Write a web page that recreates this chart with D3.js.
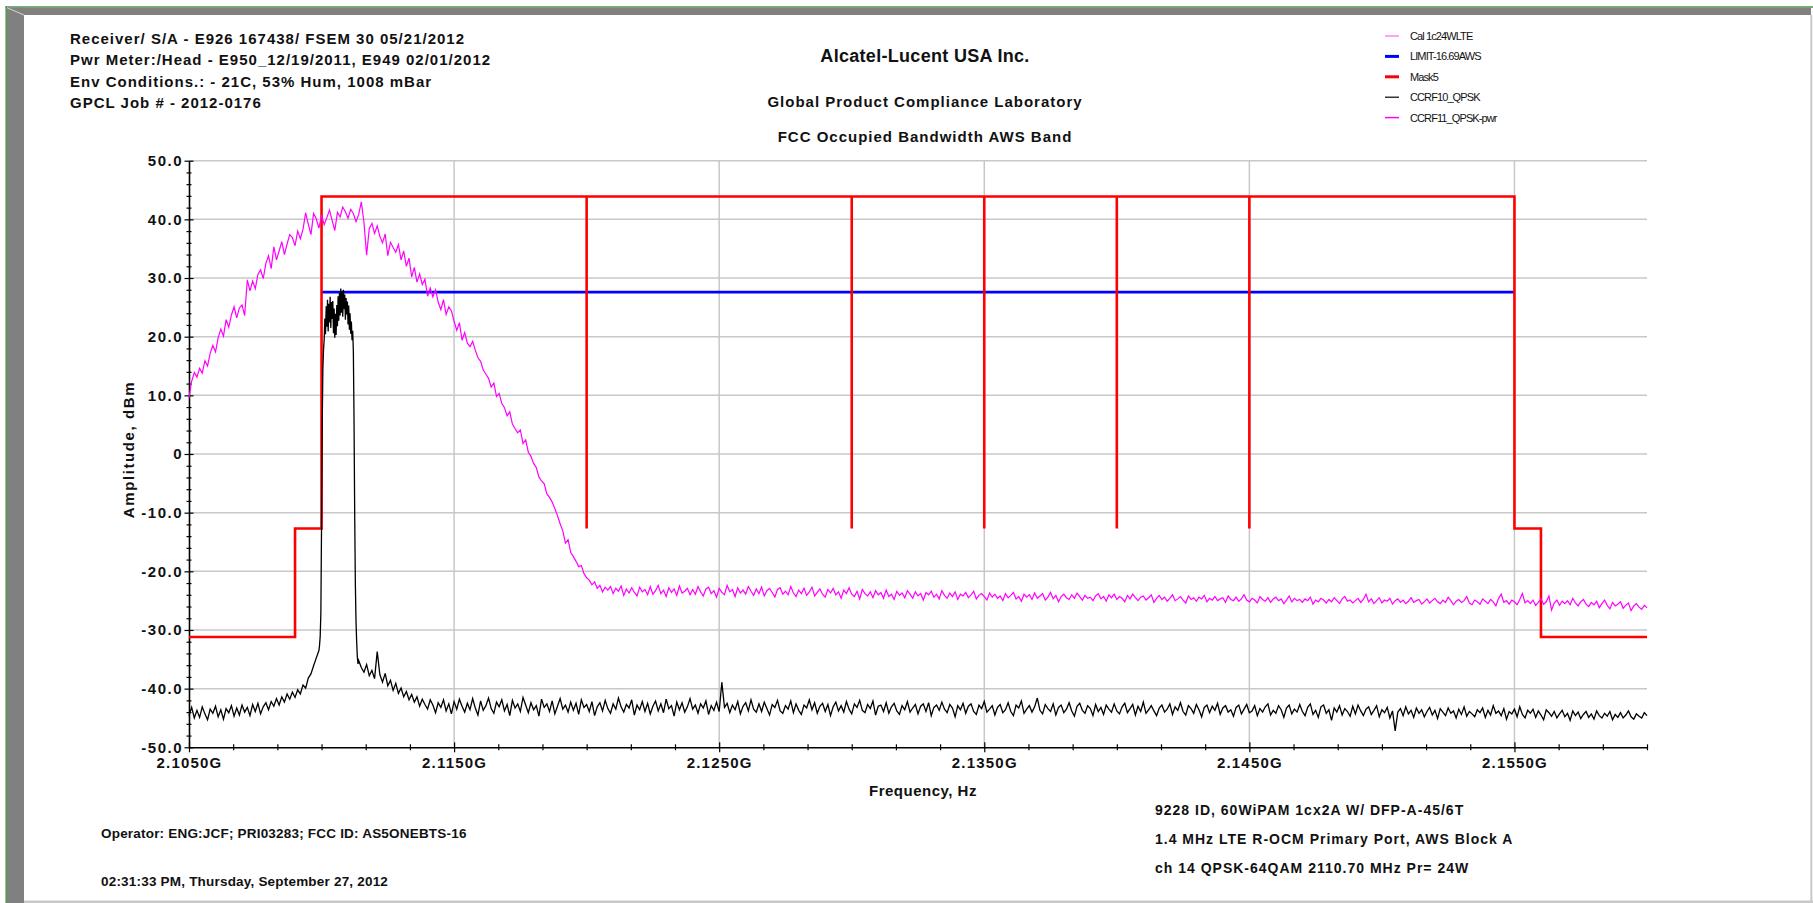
<!DOCTYPE html>
<html>
<head>
<meta charset="utf-8">
<script src="https://cdn.jsdelivr.net/npm/d3@7"></script>
<style>
  body { margin: 0; background: #fff; }
  svg { display: block; font-family: "Liberation Sans", Arial, sans-serif; font-weight: bold; }
</style>
</head>
<body>
<div class="plot"></div>
<script>
// ---- data ----
const headerLines = [
  "Receiver/ S/A - E926 167438/ FSEM 30 05/21/2012",
  "Pwr Meter:/Head - E950_12/19/2011, E949 02/01/2012",
  "Env Conditions.: - 21C, 53% Hum,  1008 mBar",
  "GPCL Job #  - 2012-0176"
];
const titleLines = ["Alcatel-Lucent USA Inc.", "Global Product Compliance Laboratory", "FCC Occupied Bandwidth AWS Band"];
const footerLeft = ["Operator:  ENG:JCF; PRI03283;  FCC ID: AS5ONEBTS-16", "02:31:33 PM, Thursday, September 27, 2012"];
const footerRight = [
  "9228 ID, 60WiPAM 1cx2A W/ DFP-A-45/6T",
  "1.4 MHz LTE R-OCM Primary Port, AWS Block A",
  "ch 14 QPSK-64QAM 2110.70 MHz Pr= 24W"
];
const legendNames = ["Cal 1c24WLTE", "LIMIT-16.69AWS", "Mask5", "CCRF10_QPSK", "CCRF11_QPSK-pwr"];
const legendColors = ["#ff80ff", "#0000ff", "#ff0000", "#000000", "#ff00ff"];
const legendWidths = [1.5, 3, 3, 1.2, 1.5];

const freqDomain = [2.105, 2.160];       // GHz
const ampDomain = [-50, 50];             // dBm
const xTickStep = 0.01 / 6;              // minor tick spacing
const yTickStep = 2;

// mask (Mask5)
const maskTop = 43.9, maskStep = -12.7, maskFloor = -31.2;
const maskFreq = [2.105, 2.109, 2.109, 2.110, 2.110, 2.155, 2.155, 2.156, 2.156, 2.160];
const maskLevel = [maskFloor, maskFloor, maskStep, maskStep, maskTop, maskTop, maskStep, maskStep, maskFloor, maskFloor];
const maskMarkers = [2.120, 2.130, 2.135, 2.140, 2.145];

// limit line
const limitFreq = [2.110, 2.155];
const limitLevel = 27.6;

// CCRF11_QPSK-pwr sweep (magenta): 2.105 GHz in 0.1 MHz steps, one row per MHz
const sweepStart = 2.105, sweepStep = 0.0001;
const pwrVals = [
  9.6, 12.4, 13.9, 13.1, 14.6, 13.8, 15.9, 15.0, 17.2, 18.5,
  17.4, 19.8, 21.3, 20.1, 22.9, 21.6, 23.7, 25.1, 23.2, 24.9,
  25.4, 23.6, 29.7, 27.8, 29.5, 28.2, 30.6, 31.4, 29.9, 32.5,
  33.8, 31.6, 35.3, 33.1, 34.6, 36.2, 34.0, 35.8, 37.4, 36.9,
  35.5, 38.0, 36.7, 38.3, 41.1, 39.2, 37.4, 41.0, 40.1, 38.5,
  40.7, 39.1, 40.3, 41.6, 39.8, 38.1, 41.2, 40.4, 42.1, 41.3,
  40.2, 41.7, 41.0, 39.6, 40.8, 43.0, 39.5, 33.9, 38.4, 39.3,
  37.6, 38.9, 37.1, 36.0, 37.5, 33.8, 36.1, 35.2, 34.4, 35.7,
  33.1, 34.6, 32.0, 33.4, 30.2, 31.8, 29.3, 30.7, 28.9, 29.8,
  26.9, 28.3, 26.8, 28.0, 25.9, 24.6, 26.3, 23.8, 25.1, 24.4,
  22.6, 21.1, 22.4, 19.4, 20.7, 18.9, 18.3, 19.2, 17.7, 16.4,
  15.8, 14.3, 13.6, 12.9, 11.4, 12.1, 9.8, 10.3, 8.6, 7.9,
  6.5, 7.2, 5.1, 4.3, 3.6, 4.1, 1.8, 2.4, 0.3, -0.4,
  -1.6, -2.3, -3.9, -4.6, -5.1, -6.8, -7.4, -8.2, -9.3, -10.5,
  -11.9, -13.1, -15.2, -14.6, -16.8, -17.5, -18.3, -19.2, -19.0, -20.4,
  -21.1, -21.5, -22.3, -21.8, -22.9, -22.4, -23.5, -22.7, -23.2, -22.6,
  -23.8, -22.9, -23.4, -22.5, -24.1, -23.0, -23.7, -22.8, -23.6, -24.2,
  -22.7, -23.5, -23.1, -24.0, -22.6, -23.9, -23.3, -22.4, -23.8, -23.2,
  -24.3, -22.8, -23.6, -23.0, -24.1, -22.5, -23.7, -23.4, -22.9, -24.0,
  -23.1, -23.9, -22.6, -23.5, -24.2, -23.0, -22.7, -23.8, -23.3, -24.4,
  -22.9, -23.6, -24.0, -22.4, -23.5, -23.1, -24.3, -22.8, -23.7, -23.2,
  -23.9, -22.6, -23.4, -24.1, -23.0, -23.8, -22.7, -24.2, -23.3, -22.9,
  -23.6, -24.4, -23.1, -22.8, -23.9, -23.4, -24.0, -22.6, -23.7, -24.3,
  -23.2, -23.8, -22.9, -24.1, -23.5, -22.7, -24.2, -23.6, -23.0, -23.9,
  -24.4, -23.1, -23.7, -22.9, -24.0, -23.5, -24.6, -23.2, -23.8, -22.8,
  -23.9, -24.3, -23.4, -24.7, -23.1, -23.8, -24.2, -23.5, -24.5, -23.3,
  -24.0, -23.6, -24.6, -23.2, -24.3, -23.9, -24.8, -23.4, -24.1, -23.7,
  -24.5, -23.3, -23.9, -24.6, -23.5, -24.2, -23.8, -24.9, -23.6, -24.0,
  -23.4, -24.4, -23.9, -24.7, -23.3, -24.1, -24.6, -23.7, -24.3, -23.5,
  -24.8, -23.9, -24.2, -23.6, -24.5, -24.0, -23.4, -24.7, -24.1, -23.8,
  -24.3, -24.9, -23.7, -24.4, -23.9, -24.6, -24.2, -25.0, -23.8, -24.5,
  -24.1, -23.6, -24.7, -24.3, -25.1, -23.9, -24.4, -24.0, -24.8, -23.7,
  -24.6, -24.2, -23.8, -24.9, -24.4, -23.6, -24.7, -24.1, -25.2, -24.3,
  -23.9, -24.5, -24.8, -24.0, -24.6, -23.7, -24.3, -24.9, -24.1, -24.6,
  -24.4, -25.0, -24.2, -23.8, -24.7, -24.3, -25.1, -24.0, -24.5, -23.9,
  -24.8, -24.3, -24.6, -25.2, -24.1, -24.7, -23.9, -24.5, -25.0, -24.4,
  -24.2, -24.9, -24.5, -24.0, -25.3, -24.6, -24.1, -24.8, -24.4, -25.1,
  -24.6, -24.0, -25.0, -24.7, -24.3, -24.9, -25.4, -24.2, -24.8, -24.5,
  -25.1, -24.4, -24.7, -24.1, -25.2, -24.6, -24.9, -24.3, -25.0, -24.7,
  -24.5, -25.3, -24.2, -24.8, -25.0, -24.4, -25.1, -24.7, -24.0, -24.9,
  -25.2, -24.6, -24.9, -25.4, -24.3, -24.8, -25.1, -24.5, -25.3, -24.7,
  -24.4, -25.0, -24.7, -25.5, -24.9, -24.2, -25.2, -24.6, -25.0, -24.8,
  -25.3, -24.7, -25.0, -24.4, -25.6, -24.9, -25.2, -24.6, -24.9, -25.4,
  -24.8, -25.2, -24.5, -25.0, -25.5, -24.7, -24.3, -25.1, -24.9, -25.4,
  -25.0, -24.6, -25.3, -24.8, -23.9, -25.2, -24.7, -25.5, -25.0, -24.5,
  -25.4, -24.9, -25.1, -24.6, -25.6, -25.0, -24.7, -25.3, -24.9, -25.5,
  -25.1, -24.5, -25.3, -25.0, -24.8, -25.6, -25.2, -24.7, -25.4, -25.0,
  -24.6, -25.2, -25.5, -24.9, -25.3, -24.4, -25.0, -25.7, -25.1, -24.8,
  -25.3, -25.0, -24.3, -25.4, -25.7, -24.9, -25.2, -25.6, -24.7, -25.1,
  -25.5, -24.8, -25.2, -25.9, -24.6, -23.9, -25.3, -25.0, -25.6, -24.9,
  -25.2, -25.7, -24.8, -23.8, -25.4, -25.0, -25.5, -24.9, -25.8, -25.3,
  -24.7, -25.6, -25.2, -24.2, -26.6, -25.4, -24.9, -25.8, -25.1, -25.5,
  -25.0, -25.7, -24.6, -25.4, -25.9, -25.2, -24.8, -25.6, -26.0, -25.3,
  -25.7, -25.1, -26.2, -25.5, -24.9, -25.8, -26.4, -25.3, -25.9, -25.6,
  -25.2, -26.3, -25.8, -25.4, -26.7, -25.9, -25.5, -26.1, -26.5, -25.8,
  -26.2
];

// CCRF10_QPSK (black): below carrier, carrier (fine steps), above carrier
const noiseLeft = [
  -44.6, -43.2, -45.0, -43.7, -44.9, -43.1, -44.3, -45.3, -43.5, -44.2,
  -43.0, -44.8, -43.6, -45.2, -43.4, -44.1, -42.9, -44.7, -43.3, -44.5,
  -42.8, -44.0, -43.2, -44.6, -42.7, -43.9, -42.5, -44.3, -43.1, -42.4,
  -43.6, -42.2, -43.0, -41.7, -42.8, -41.4, -42.3, -40.9, -41.8, -40.6,
  -41.5, -40.2, -40.9, -39.4, -39.9, -38.2, -37.5, -36.1, -34.8
];
const carrierStart = 2.1099, carrierStep = 0.000025;
const carrierVals = [
  -33.5, -32.6, -31.0, -27.0,
  -12.0, 5.0, 14.5, 17.8, 19.6, 23.1, 20.4, 25.2, 21.7, 26.3,
  20.9, 25.6, 22.4, 26.8, 21.5, 25.9, 23.0, 26.1, 20.6, 24.8,
  19.8, 23.9, 20.3, 25.4, 21.8, 26.9, 22.7, 27.5, 23.6, 28.2,
  24.1, 27.8, 23.4, 28.0, 24.7, 27.2, 22.9, 26.6, 23.8, 26.0,
  22.1, 25.3, 21.2, 24.0, 20.5, 22.6, 19.4, 21.0, 17.5, 6.0,
  -10.0, -22.0, -28.5, -32.0, -34.6, -35.8, -35.2
];
const noiseRightStart = 2.1115;
const noiseRight = [
  -36.4, -37.2, -35.9, -37.8, -36.9, -38.3, -33.7, -37.6, -38.9, -37.4,
  -39.5, -38.6, -40.3, -39.1, -40.8, -39.9, -41.4, -40.5, -41.9, -41.0,
  -42.3, -41.4, -43.0, -41.8, -42.7, -43.5, -41.9, -42.8, -44.1, -42.4,
  -43.2, -41.9, -43.8, -42.6, -44.3, -42.2, -43.5, -41.8, -43.0, -44.0,
  -42.5, -43.6, -41.7, -43.3, -44.5, -42.1, -43.7, -42.9, -41.6, -43.4,
  -44.2, -42.3, -43.1, -41.9, -43.8, -42.7, -44.6, -42.0, -43.3, -42.6,
  -43.9, -41.5, -42.8, -44.1, -42.4, -43.6, -42.9, -44.7, -41.8, -43.2,
  -42.6, -43.9, -42.1, -44.3, -43.0, -41.7, -43.5, -42.8, -44.0, -42.3,
  -43.7, -42.5, -44.4, -41.9, -43.2, -42.7, -43.9, -42.2, -44.6, -43.1,
  -42.4, -43.8, -42.0, -43.4, -44.2, -42.6, -43.5, -41.6, -43.1, -44.0,
  -42.7, -43.3, -41.9, -44.5, -42.8, -43.6, -42.2, -43.9, -42.5, -44.3,
  -43.0, -42.1, -43.8, -42.6, -44.1, -41.8, -43.4, -42.9, -44.7, -42.3,
  -43.6, -42.4, -44.0, -43.1, -41.7, -43.5, -42.8, -44.2, -42.6, -43.3,
  -42.1, -44.4, -42.9, -43.7, -42.3, -43.9, -38.9, -43.2, -42.5, -44.1,
  -42.8, -43.6, -42.2, -44.3, -43.0, -42.4, -43.8, -41.9, -43.5, -44.0,
  -42.6, -43.9, -42.3, -43.4, -44.5, -42.7, -43.2, -42.0, -43.8, -44.2,
  -42.9, -43.5, -42.1, -44.1, -42.6, -43.7, -44.4, -42.8, -43.3, -41.9,
  -43.6, -42.4, -44.2, -43.0, -42.5, -43.9, -42.7, -44.6, -43.1, -42.3,
  -43.8, -42.9, -44.0, -42.2, -43.5, -44.3, -42.6, -43.2, -42.0, -43.7,
  -44.1, -42.7, -43.4, -42.1, -44.5, -43.0, -42.8, -43.9, -42.4, -44.2,
  -43.1, -42.5, -43.8, -44.4, -42.9, -43.6, -42.2, -44.0, -43.3, -42.7,
  -44.3, -43.0, -42.6, -43.9, -42.4, -44.6, -43.2, -42.8, -43.7, -42.3,
  -43.5, -44.1, -42.7, -43.3, -44.8, -42.9, -43.6, -42.5, -44.2, -43.0,
  -42.6, -43.9, -44.4, -42.8, -43.4, -42.2, -44.0, -43.5, -42.9, -44.5,
  -43.2, -42.7, -44.1, -43.6, -42.4, -43.9, -44.6, -42.8, -43.3, -42.1,
  -44.2, -43.5, -42.9, -44.0, -43.1, -41.6, -43.7, -44.3, -42.7, -43.4,
  -43.9, -42.6, -44.5, -43.2, -42.8, -44.1, -43.5, -42.4, -43.8, -44.7,
  -43.0, -42.5, -43.7, -44.2, -42.9, -43.4, -44.6, -42.7, -43.9, -43.2,
  -44.4, -42.8, -43.5, -44.0, -42.6, -43.8, -44.3, -43.1, -42.5, -44.1,
  -43.4, -42.7, -44.5, -43.0, -43.9, -42.3, -44.2, -43.6, -42.9, -43.8,
  -44.6, -43.3, -42.8, -44.0, -43.5, -42.6, -44.4, -43.1, -43.7, -42.4,
  -43.9, -44.5, -42.9, -43.4, -44.2, -42.7, -43.6, -44.8, -43.2, -42.8,
  -44.1, -43.0, -43.7, -42.5, -44.4, -43.3, -42.9, -44.0, -43.6, -44.7,
  -43.2, -42.8, -44.3, -43.5, -42.7, -44.1, -43.8, -42.9, -44.6, -43.4,
  -44.0, -43.1, -42.6, -44.5, -43.7, -44.2, -42.9, -43.6, -44.9, -43.3,
  -42.8, -44.3, -43.5, -44.0, -42.7, -43.9, -44.6, -43.2, -42.6, -44.4,
  -43.7, -44.9, -43.1, -42.8, -44.2, -43.6, -45.4, -43.3, -44.0, -42.9,
  -44.5, -43.4, -43.9, -44.7, -43.0, -44.3, -42.8, -43.8, -44.6, -43.5,
  -43.1, -44.4, -43.7, -42.9, -44.8, -43.6, -44.1, -43.2, -45.0, -43.8,
  -47.2, -44.0, -43.4, -44.6, -43.1, -44.3, -43.7, -44.9, -43.3, -44.2,
  -43.6, -44.8, -43.9, -43.2, -44.5, -43.7, -45.1, -43.4, -44.0, -44.6,
  -43.3, -44.2, -43.8, -45.0, -43.5, -44.4, -43.1, -44.7, -43.9, -44.3,
  -44.8, -43.6, -44.1, -43.3, -44.9, -43.7, -44.5, -42.9, -44.2, -43.8,
  -44.6, -43.4, -45.2, -43.9, -44.3, -43.5, -44.8, -43.1, -44.4, -45.0,
  -43.7, -44.2, -43.5, -44.9, -43.8, -44.5, -45.3, -43.6, -44.1, -44.7,
  -43.9, -45.0, -44.3, -43.7, -44.8, -44.2, -45.4, -43.8, -44.6, -44.0,
  -45.1, -44.4, -43.9, -44.9, -44.3, -45.2, -43.8, -44.6, -45.0, -44.2,
  -44.7, -43.9, -45.3, -44.4, -44.9, -44.1, -45.0, -44.5, -43.8, -44.8,
  -45.2, -44.3, -44.7, -45.0, -44.1, -44.6
];

// ---- drawing ----
const W = 1813, H = 903;
const svg = d3.select(".plot")
  .append("svg")
    .attr("width", W)
    .attr("height", H);

// window frame
svg.append("rect").attr("x", 5.5).attr("y", 6.3).attr("width", W - 5.5).attr("height", 1.4).attr("fill", "#3c8c3c");
svg.append("rect").attr("x", 5.5).attr("y", 6.3).attr("width", 1.4).attr("height", H).attr("fill", "#3c8c3c");
svg.append("rect").attr("x", 7).attr("y", 7.7).attr("width", 1804).attr("height", 7.3).attr("fill", "#808080");
svg.append("rect").attr("x", 7).attr("y", 7.7).attr("width", 17).attr("height", H).attr("fill", "#808080");
svg.append("line").attr("x1", 7).attr("y1", 7.7).attr("x2", 24).attr("y2", 15).attr("stroke", "#d8d8d8").attr("stroke-width", 1);
svg.append("rect").attr("x", 1810.3).attr("y", 15).attr("width", 2).attr("height", H).attr("fill", "#c8c8c8");
svg.append("rect").attr("x", 24).attr("y", 900.5).attr("width", W).attr("height", 2.5).attr("fill", "#c8c8c8");

const x = d3.scaleLinear().domain(freqDomain).range([189, 1647]);
const y = d3.scaleLinear().domain(ampDomain).range([747.3, 160.7]);

// gridlines
const yGrid = d3.range(ampDomain[0] + 10, ampDomain[1] + 1, 10);
const xMajor = d3.range(0, 34).filter(i => i % 6 === 0).map(i => freqDomain[0] + i * xTickStep);
svg.append("g").selectAll("line").data(yGrid).join("line")
  .attr("x1", x(freqDomain[0])).attr("x2", x(freqDomain[1]))
  .attr("y1", d => y(d)).attr("y2", d => y(d))
  .attr("stroke", "#c8c8c8").attr("stroke-width", 1.5);
svg.append("g").selectAll("line").data(xMajor.slice(1)).join("line")
  .attr("x1", d => x(d)).attr("x2", d => x(d))
  .attr("y1", y(ampDomain[0])).attr("y2", y(ampDomain[1]))
  .attr("stroke", "#c8c8c8").attr("stroke-width", 1.5);

// y axis
const yAxis = d3.axisLeft(y)
  .tickValues(d3.range(ampDomain[0], ampDomain[1] + 1, yTickStep))
  .tickSize(0)
  .tickPadding(6)
  .tickFormat(d => d % 10 ? "" : (d === 0 ? "0" : d.toFixed(1)));
const gy = svg.append("g")
  .attr("transform", `translate(${x(freqDomain[0])},0)`)
  .call(yAxis)
  .attr("font-family", null).attr("font-size", 15);
gy.select(".domain").attr("stroke", "#000").attr("stroke-width", 1.6);
gy.selectAll(".tick line")
  .attr("x1", d => d % 10 ? -2.5 : -4.5)
  .attr("x2", d => d % 10 ? 2.5 : 4.5)
  .attr("stroke", "#000").attr("stroke-width", 1.2);
gy.selectAll(".tick text").attr("fill", "#111").style("letter-spacing", "1.5px");

// x axis
const xTicks = d3.range(0, 34).map(i => freqDomain[0] + i * xTickStep);
const xAxis = d3.axisBottom(x)
  .tickValues(xTicks)
  .tickSize(0)
  .tickPadding(10)
  .tickFormat((d, i) => i % 6 ? "" : d.toFixed(4) + "G");
const gx = svg.append("g")
  .attr("transform", `translate(0,${y(ampDomain[0])})`)
  .call(xAxis)
  .attr("font-family", null).attr("font-size", 15);
gx.select(".domain").attr("stroke", "#000").attr("stroke-width", 1.6);
gx.selectAll(".tick line")
  .attr("y1", (d, i) => i % 6 ? -3 : -5)
  .attr("y2", (d, i) => i % 6 ? 3 : 5)
  .attr("stroke", "#000").attr("stroke-width", 1.2);
gx.selectAll(".tick text").attr("fill", "#111").style("letter-spacing", "1.2px");

// series
const line = d3.line().x(d => x(d[0])).y(d => y(d[1]));
const pwr = pwrVals.map((v, i) => [sweepStart + i * sweepStep, v]);
const qpsk = noiseLeft.map((v, i) => [sweepStart + i * sweepStep, v])
  .concat(carrierVals.map((v, i) => [carrierStart + i * carrierStep, v]))
  .concat(noiseRight.map((v, i) => [noiseRightStart + i * sweepStep, v]));

svg.append("path")
  .datum(limitFreq.map(f => [f, limitLevel]))
  .attr("d", line).attr("fill", "none")
  .attr("stroke", "#0000ff").attr("stroke-width", 2.6);

svg.append("path")
  .datum(d3.zip(maskFreq, maskLevel))
  .attr("d", line).attr("fill", "none")
  .attr("stroke", "#ff0000").attr("stroke-width", 2.6);
svg.append("g").selectAll("line").data(maskMarkers).join("line")
  .attr("x1", d => x(d)).attr("x2", d => x(d))
  .attr("y1", y(maskTop)).attr("y2", y(maskStep))
  .attr("stroke", "#ff0000").attr("stroke-width", 2.6);

svg.append("path")
  .datum(qpsk)
  .attr("d", line).attr("fill", "none")
  .attr("stroke", "#000").attr("stroke-width", 1.3);

svg.append("path")
  .datum(pwr)
  .attr("d", line).attr("fill", "none")
  .attr("stroke", "#ff00ff").attr("stroke-width", 1.2);

// texts
svg.append("g").selectAll("text").data(headerLines).join("text")
  .attr("x", 70).attr("y", (d, i) => 43.5 + i * 21.5)
  .attr("font-size", 15).style("letter-spacing", "1px").attr("fill", "#111")
  .text(d => d);

svg.append("g").selectAll("text").data(titleLines).join("text")
  .attr("x", 925).attr("y", (d, i) => [61.5, 106.5, 142][i])
  .attr("text-anchor", "middle")
  .attr("font-size", (d, i) => i === 0 ? 18 : 15)
  .style("letter-spacing", (d, i) => i === 0 ? "0.3px" : "1px")
  .attr("fill", "#111")
  .text(d => d);

const lg = svg.append("g");
legendNames.forEach((name, i) => {
  const ly = 36 + i * 20.4;
  lg.append("line").attr("x1", 1385).attr("x2", 1399).attr("y1", ly).attr("y2", ly)
    .attr("stroke", legendColors[i]).attr("stroke-width", legendWidths[i]);
  lg.append("text").attr("x", 1410).attr("y", ly + 4)
    .attr("font-size", 11).attr("font-weight", "normal")
    .style("letter-spacing", "-0.9px").attr("fill", "#111")
    .text(name);
});

svg.append("text")
  .attr("transform", "translate(134,449.5) rotate(-90)")
  .attr("text-anchor", "middle")
  .attr("font-size", 15).style("letter-spacing", "1.6px").attr("fill", "#111")
  .text("Amplitude, dBm");

svg.append("text")
  .attr("x", 923).attr("y", 796)
  .attr("text-anchor", "middle")
  .attr("font-size", 15).style("letter-spacing", "0.5px").attr("fill", "#111")
  .text("Frequency, Hz");

svg.append("g").selectAll("text").data(footerRight).join("text")
  .attr("x", 1155).attr("y", (d, i) => 815 + i * 29)
  .attr("font-size", 14).style("letter-spacing", "1px").attr("fill", "#111")
  .text(d => d);

svg.append("g").selectAll("text").data(footerLeft).join("text")
  .attr("x", 101).attr("y", (d, i) => 838 + i * 48)
  .attr("font-size", 13.5).style("letter-spacing", "0.2px").attr("fill", "#111")
  .text(d => d);
</script>
</body>
</html>
